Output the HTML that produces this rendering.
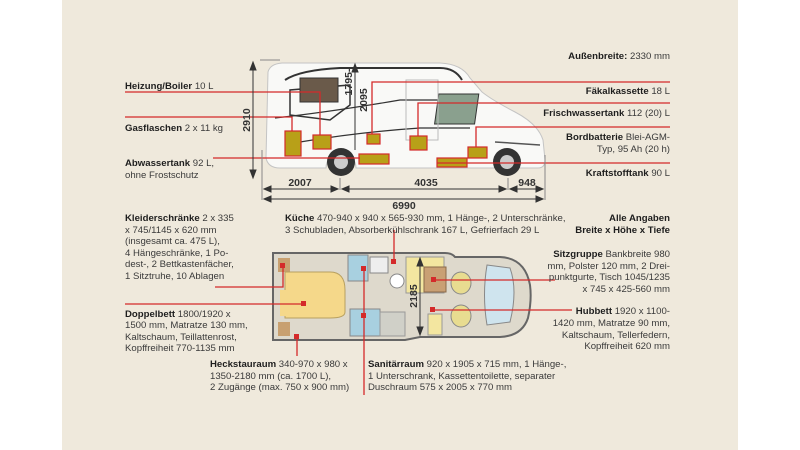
<!DOCTYPE html>
<html><head><meta charset="utf-8"><style>
html,body{margin:0;padding:0;background:#fff;}
svg{display:block}
text{font-family:"Liberation Sans Narrow","Liberation Sans",sans-serif;font-size:9.6px;fill:#3a3a3a;}
.b{font-weight:bold;fill:#1e1e1e;}
.r{text-anchor:end}
.d{font-weight:bold;fill:#333;font-size:10.5px}
</style></head><body>
<svg width="800" height="450" viewBox="0 0 800 450" xmlns="http://www.w3.org/2000/svg">
<rect x="0" y="0" width="800" height="450" fill="#fff"/>
<rect x="62" y="0" width="676" height="450" fill="#efe9dc"/>

<!-- camper side view -->
<g>
<path d="M268,72 Q270,64 282,63 L440,63 Q462,64 470,78 L482,92 Q492,100 515,112 Q538,124 543,140 L545,160 Q545,168 538,168 L520,168 A14,14 0 0 0 494,168 L356,168 A14,14 0 0 0 326,168 L280,168 Q268,168 266,158 Z" fill="#f9f9f7" stroke="#c4c4c4" stroke-width="1"/>
<path d="M285,80 Q300,70 340,68 L440,68 Q455,68 462,80" fill="none" stroke="#333" stroke-width="2"/>
<path d="M290,90 L290,115 L330,120 L350,105 L350,85 Z" fill="none" stroke="#333" stroke-width="1.5"/>
<rect x="300" y="78" width="38" height="24" fill="#6a5a4a" stroke="#333"/>
<path d="M275,118 Q330,112 400,100 L470,100" fill="none" stroke="#333" stroke-width="1.2"/>
<path d="M300,142 Q360,132 420,128 L470,128" fill="none" stroke="#333" stroke-width="1.2"/>
<rect x="452" y="94" width="40" height="30" fill="#8aa08e" stroke="#333" transform="skewX(-8)"/>
<rect x="406" y="80" width="32" height="60" fill="none" stroke="#bbb"/>
<path d="M495,142 L540,145" stroke="#555" stroke-width="1.5"/>
<circle cx="341" cy="162" r="14" fill="#333"/><circle cx="341" cy="162" r="7" fill="#ccc"/>
<circle cx="507" cy="162" r="14" fill="#333"/><circle cx="507" cy="162" r="7" fill="#ccc"/>
<g fill="#b8a018" stroke="#d42a2a" stroke-width="1.2">
<rect x="285" y="131" width="16" height="25"/>
<rect x="313" y="135" width="18" height="14"/>
<rect x="367" y="134" width="13" height="10"/>
<rect x="359" y="154" width="30" height="10"/>
<rect x="410" y="136" width="17" height="14"/>
<rect x="437" y="158" width="30" height="9"/>
<rect x="468" y="147" width="19" height="11"/>
</g>
</g>

<g stroke="#d42a2a" stroke-width="1.3" fill="none">
<path d="M125,92 L320,92 L320,135"/>
<path d="M125,117 L292,117 L292,131"/>
<path d="M213,158 L360,158"/>
<path d="M372,134 L372,82 L670,82"/>
<path d="M418,136 L418,103 L670,103"/>
<path d="M476,147 L476,127 L670,127"/>
<path d="M437,163 L670,163"/>
</g>

<g stroke="#333" stroke-width="1" fill="#333">
<line x1="253" y1="64" x2="253" y2="176"/>
<path d="M250,70 L253,62 L256,70 Z"/><path d="M250,170 L253,178 L256,170 Z"/>
<line x1="260" y1="60" x2="280" y2="60" stroke="#888"/>
<line x1="355" y1="66" x2="355" y2="150"/>
<path d="M352,72 L355,64 L358,72 Z"/>
<line x1="262" y1="150" x2="262" y2="200" stroke="#888"/>
<line x1="545" y1="155" x2="545" y2="200" stroke="#888"/>
<line x1="340" y1="178" x2="340" y2="190" stroke="#888"/>
<line x1="508" y1="178" x2="508" y2="190" stroke="#888"/>
<line x1="264" y1="189" x2="338" y2="189"/>
<line x1="342" y1="189" x2="506" y2="189"/>
<line x1="510" y1="189" x2="543" y2="189"/>
<line x1="264" y1="199" x2="543" y2="199"/>
<path d="M264,199 L271,196 L271,202 Z"/><path d="M543,199 L536,196 L536,202 Z"/>
<path d="M264,189 L271,186 L271,192 Z"/><path d="M338,189 L331,186 L331,192 Z"/>
<path d="M342,189 L349,186 L349,192 Z"/><path d="M506,189 L499,186 L499,192 Z"/>
<path d="M510,189 L517,186 L517,192 Z"/><path d="M543,189 L536,186 L536,192 Z"/>
</g>
<text class="d" x="250" y="120" transform="rotate(-90 250 120)" text-anchor="middle">2910</text>
<text class="d" x="352" y="82" transform="rotate(-90 352 82)" text-anchor="middle">1795-</text>
<text class="d" x="367" y="100" transform="rotate(-90 367 100)" text-anchor="middle">2095</text>
<text class="d" x="300" y="186" text-anchor="middle">2007</text>
<text class="d" x="426" y="186" text-anchor="middle">4035</text>
<text class="d" x="527" y="186" text-anchor="middle">948</text>
<text class="d" x="404" y="209" text-anchor="middle">6990</text>

<text x="125" y="89"><tspan class="b">Heizung/Boiler</tspan> 10 L</text>
<text x="125" y="131"><tspan class="b">Gasflaschen</tspan> 2 x 11 kg</text>
<text x="125" y="166"><tspan class="b">Abwassertank</tspan> 92 L,</text>
<text x="125" y="178">ohne Frostschutz</text>
<text class="r" x="670" y="59"><tspan class="b">Außenbreite:</tspan> 2330 mm</text>
<text class="r" x="670" y="94"><tspan class="b">Fäkalkassette</tspan> 18 L</text>
<text class="r" x="670" y="116"><tspan class="b">Frischwassertank</tspan> 112 (20) L</text>
<text class="r" x="670" y="140"><tspan class="b">Bordbatterie</tspan> Blei-AGM-</text>
<text class="r" x="670" y="152">Typ, 95 Ah (20 h)</text>
<text class="r" x="670" y="176"><tspan class="b">Kraftstofftank</tspan> 90 L</text>

<g>
<path d="M273,253 L445,253 Q452,253 455,257 L500,257 Q525,258 530,285 Q532,300 528,318 Q522,336 500,337 L420,337 L405,340 L273,340 Z" fill="#ded9cc" stroke="#666" stroke-width="2"/>
<rect x="278" y="258" width="12" height="14" fill="#c8a070"/>
<rect x="278" y="322" width="12" height="14" fill="#c8a070"/>
<path d="M285,272 L330,272 Q345,272 345,290 L345,312 Q345,318 330,318 L285,318 Z" fill="#f5d88a" stroke="#b8a060"/>
<rect x="280" y="290" width="10" height="26" fill="#f5d88a"/>
<rect x="348" y="255" width="20" height="26" fill="#a8d0e0" stroke="#888"/>
<rect x="370" y="257" width="18" height="16" fill="#eee" stroke="#888"/>
<circle cx="397" cy="281" r="7" fill="#fff" stroke="#888"/>
<rect x="350" y="309" width="30" height="27" fill="#a8d0e0" stroke="#888"/>
<rect x="380" y="312" width="25" height="24" fill="#d0d0c8" stroke="#999"/>
<rect x="406" y="257" width="38" height="36" fill="#f3e6a0" stroke="#999"/>
<rect x="424" y="267" width="22" height="25" fill="#c9a074" stroke="#8a6a4a"/>
<rect x="428" y="314" width="14" height="21" fill="#f3e6a0" stroke="#999"/>
<ellipse cx="461" cy="283" rx="10" ry="11" fill="#e8dc90" stroke="#888"/>
<ellipse cx="461" cy="316" rx="10" ry="11" fill="#e8dc90" stroke="#888"/>
<path d="M487,265 L510,268 Q518,290 510,322 L487,325 Q482,295 487,265 Z" fill="#cfe4ee" stroke="#888"/>
</g>
<g stroke="#333" fill="#333">
<line x1="420" y1="260" x2="420" y2="333"/>
<path d="M417,266 L420,258 L423,266 Z"/><path d="M417,327 L420,335 L423,327 Z"/>
</g>
<text class="d" x="417" y="296" transform="rotate(-90 417 296)" text-anchor="middle">2185</text>

<g stroke="#d42a2a" stroke-width="1.3" fill="none">
<path d="M394,230 L394,262"/>
<path d="M364,268 L364,395"/>
<path d="M283,265 L283,287 L215,287"/>
<path d="M304,304 L125,304"/>
<path d="M297,337 L297,356"/>
<path d="M434,280 L555,280"/>
<path d="M433,310 L572,310"/>
</g>
<g fill="#d42a2a">
<rect x="391" y="259" width="5" height="5"/><rect x="361" y="266" width="5" height="5"/>
<rect x="361" y="313" width="5" height="5"/><rect x="280" y="263" width="5" height="5"/>
<rect x="301" y="301" width="5" height="5"/><rect x="294" y="334" width="5" height="5"/>
<rect x="431" y="277" width="5" height="5"/><rect x="430" y="307" width="5" height="5"/>
</g>

<text x="125" y="221"><tspan class="b">Kleiderschränke</tspan> 2 x 335</text>
<text x="125" y="233">x 745/1145 x 620 mm</text>
<text x="125" y="244">(insgesamt ca. 475 L),</text>
<text x="125" y="256">4 Hängeschränke, 1 Po-</text>
<text x="125" y="267">dest-, 2 Bettkastenfächer,</text>
<text x="125" y="279">1 Sitztruhe, 10 Ablagen</text>
<text x="285" y="221"><tspan class="b">Küche</tspan> 470-940 x 940 x 565-930 mm, 1 Hänge-, 2 Unterschränke,</text>
<text x="285" y="233">3 Schubladen, Absorberkühlschrank 167 L, Gefrierfach 29 L</text>
<text x="125" y="317"><tspan class="b">Doppelbett</tspan> 1800/1920 x</text>
<text x="125" y="328">1500 mm, Matratze 130 mm,</text>
<text x="125" y="340">Kaltschaum, Teillattenrost,</text>
<text x="125" y="351">Kopffreiheit 770-1135 mm</text>
<text x="210" y="367"><tspan class="b">Heckstauraum</tspan> 340-970 x 980 x</text>
<text x="210" y="379">1350-2180 mm (ca. 1700 L),</text>
<text x="210" y="390">2 Zugänge (max. 750 x 900 mm)</text>
<text x="368" y="367"><tspan class="b">Sanitärraum</tspan> 920 x 1905 x 715 mm, 1 Hänge-,</text>
<text x="368" y="379">1 Unterschrank, Kassettentoilette, separater</text>
<text x="368" y="390">Duschraum 575 x 2005 x 770 mm</text>
<text class="r b" x="670" y="221">Alle Angaben</text>
<text class="r b" x="670" y="233">Breite x Höhe x Tiefe</text>
<text class="r" x="670" y="257"><tspan class="b">Sitzgruppe</tspan> Bankbreite 980</text>
<text class="r" x="670" y="269">mm, Polster 120 mm, 2 Drei-</text>
<text class="r" x="670" y="280">punktgurte, Tisch 1045/1235</text>
<text class="r" x="670" y="292">x 745 x 425-560 mm</text>
<text class="r" x="670" y="314"><tspan class="b">Hubbett</tspan> 1920 x 1100-</text>
<text class="r" x="670" y="326">1420 mm, Matratze 90 mm,</text>
<text class="r" x="670" y="338">Kaltschaum, Tellerfedern,</text>
<text class="r" x="670" y="349">Kopffreiheit 620 mm</text>
</svg>
</body></html>
